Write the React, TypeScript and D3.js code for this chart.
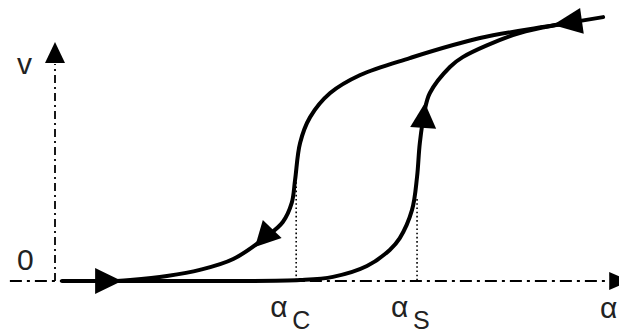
import React from 'react';
import * as d3 from 'd3';

// hysteresis loop (alpha in 0..10, v in 0..1)
const alphaUp = [0.126, 1.17, 2.6, 4.4, 4.99, 5.6, 6.01, 6.19, 6.41, 6.5, 6.55, 6.64, 6.73, 7.09, 7.32, 8.22, 8.8, 9.34];
const vUp = [0, 0, 0, 0.004, 0.017, 0.062, 0.129, 0.178, 0.295, 0.432, 0.573, 0.71, 0.78, 0.888, 0.929, 1.02, 1.054, 1.075];

const alphaDown = [9.84, 8.98, 7.63, 6.37, 5.48, 4.94, 4.58, 4.4, 4.31, 4.25, 4.09, 3.81, 3.2, 2.6, 2.01, 1.35, 1.11];
const vDown = [1.095, 1.062, 1.008, 0.925, 0.855, 0.78, 0.68, 0.573, 0.419, 0.324, 0.245, 0.187, 0.091, 0.046, 0.021, 0.004, 0];

// arrow heads along the loop: tip and tail
const arrowTipAlpha = [1.2, 3.59, 6.64, 8.94];
const arrowTipV = [0, 0.141, 0.739, 1.062];
const arrowTailAlpha = [0.72, 3.9, 6.61, 9.46];
const arrowTailV = [0, 0.216, 0.635, 1.079];

// thresholds
const thresholds = [
  { name: 'C', alpha: 4.33, v: 0.41 },
  { name: 'S', alpha: 6.5, v: 0.34 },
];

const W = 619;
const H = 334;

function head(tip: [number, number], tail: [number, number], hw: number) {
  const dx = tip[0] - tail[0];
  const dy = tip[1] - tail[1];
  const len = Math.hypot(dx, dy) || 1;
  const nx = -dy / len;
  const ny = dx / len;
  return `M${tip[0]},${tip[1]}L${tail[0] + nx * hw},${tail[1] + ny * hw}L${tail[0] - nx * hw},${tail[1] - ny * hw}Z`;
}

export default function App() {
  const x = d3.scaleLinear().domain([0, 10]).range([55, 612]);
  const y = d3.scaleLinear().domain([0, 1]).range([281, 40]);

  const line = d3
    .line<[number, number]>()
    .x((d) => x(d[0]))
    .y((d) => y(d[1]))
    .curve(d3.curveCatmullRom.alpha(0.5));

  const up = alphaUp.map((a, i) => [a, vUp[i]] as [number, number]);
  const down = alphaDown.map((a, i) => [a, vDown[i]] as [number, number]);

  const font = 'Liberation Sans, Arial, sans-serif';

  return (
    <svg width={W} height={H} style={{ position: 'absolute', left: 0, top: 0, background: '#fff' }}>
      {/* axes */}
      <line x1={x(-0.81)} y1={y(0)} x2={x(9.95)} y2={y(0)} stroke="#000" strokeWidth={1.8} strokeDasharray="12 5 3 5" />
      <path d={head([x(10.32), y(0)], [x(9.95), y(0)], 9)} fill="#000" />
      <line x1={x(0)} y1={y(0)} x2={x(0)} y2={y(0.9)} stroke="#000" strokeWidth={1.8} strokeDasharray="8 4 2 4" />
      <path d={head([x(0), y(0.992)], [x(0), y(0.905)], 10)} fill="#000" />

      {/* threshold guides */}
      {thresholds.map((t) => (
        <line key={t.name} x1={x(t.alpha)} y1={y(t.v)} x2={x(t.alpha)} y2={y(0)} stroke="#000" strokeWidth={1.6} strokeDasharray="1.6 2.6" />
      ))}

      {/* loop */}
      <path d={line(up) || ''} fill="none" stroke="#000" strokeWidth={4} strokeLinecap="round" />
      <path d={line(down) || ''} fill="none" stroke="#000" strokeWidth={4} strokeLinecap="round" />
      {arrowTipAlpha.map((a, i) => (
        <path
          key={i}
          d={head([x(a), y(arrowTipV[i])], [x(arrowTailAlpha[i]), y(arrowTailV[i])], 13)}
          fill="#000"
        />
      ))}

      {/* labels */}
      <text x={x(0) - 38} y={y(0.86)} fontFamily={font} fontSize={30} fill="#222">v</text>
      <text x={x(0) - 38} y={y(0) - 11} fontFamily={font} fontSize={30} fill="#222">0</text>
      {thresholds.map((t) => (
        <g key={t.name} fontFamily={font} fill="#222">
          <text x={x(t.alpha) - 26} y={317} fontSize={30}>α</text>
          <text x={x(t.alpha) - 4} y={329} fontSize={25}>{t.name}</text>
        </g>
      ))}
      <text x={600} y={318} fontFamily={font} fontSize={30} fill="#222">α</text>
    </svg>
  );
}
